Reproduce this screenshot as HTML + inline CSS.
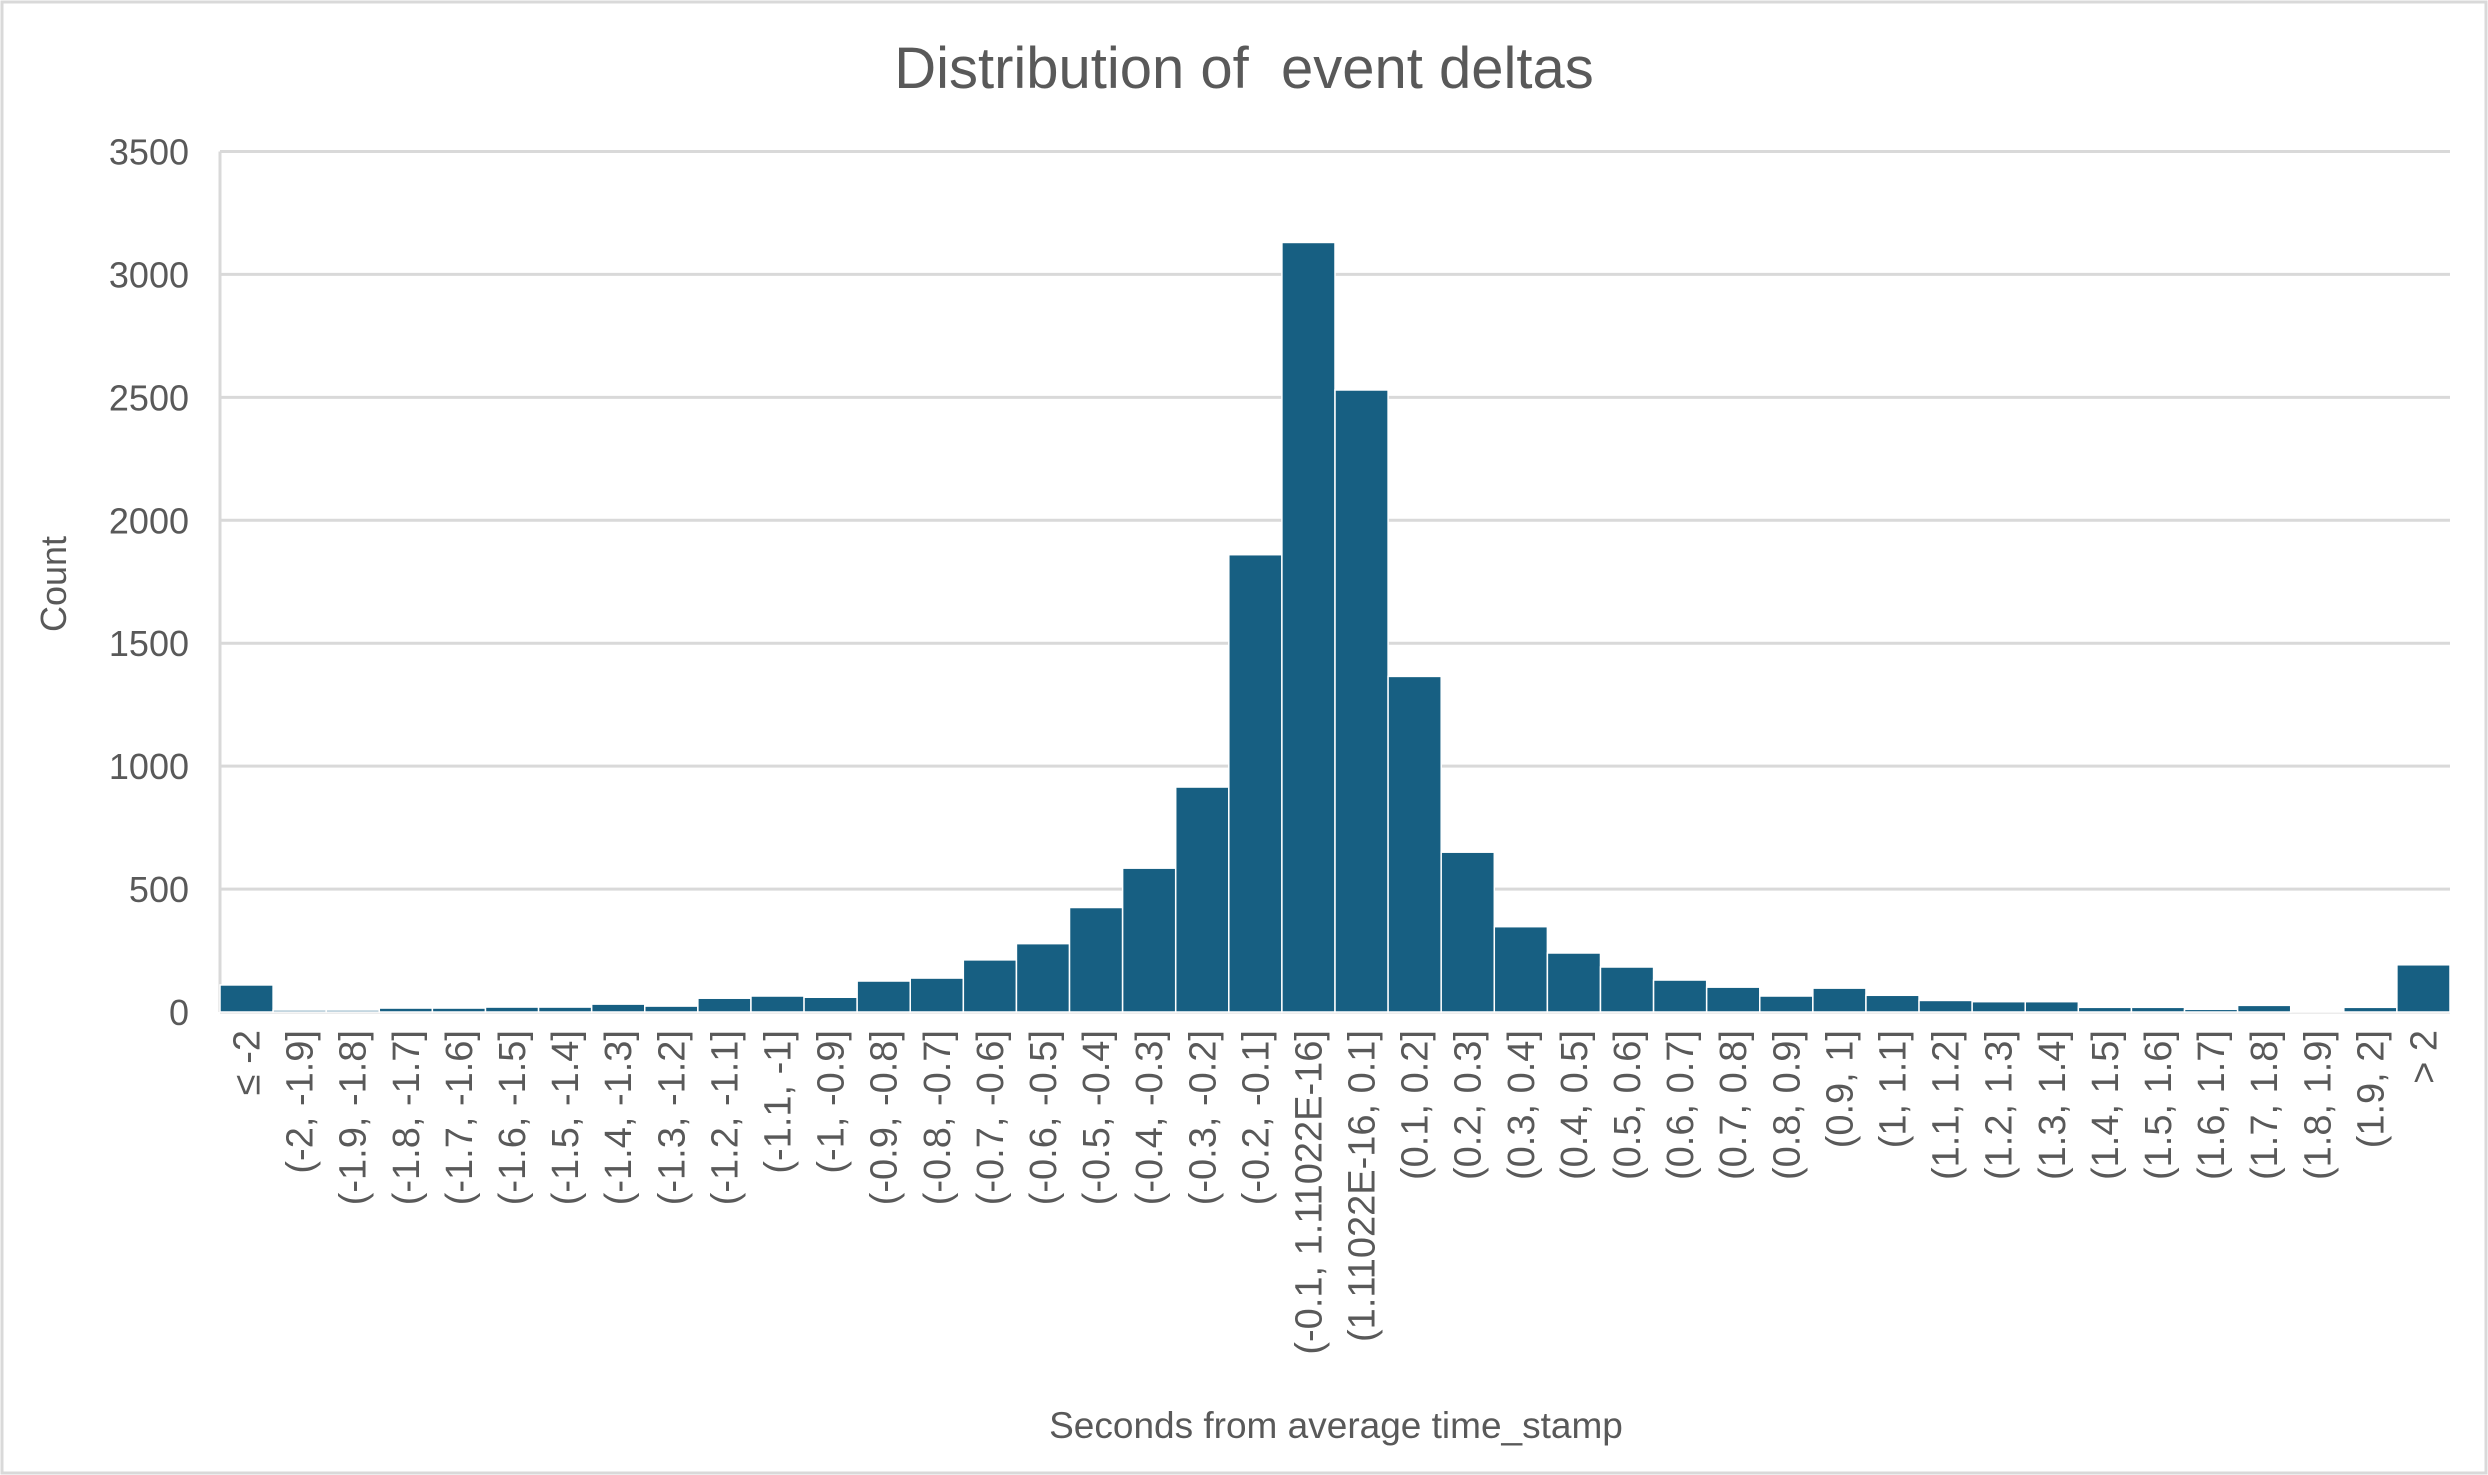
<!DOCTYPE html>
<html><head><meta charset="utf-8"><style>
html,body{margin:0;padding:0;background:#fff;}
svg{display:block;font-family:"Liberation Sans",sans-serif;}
</style></head><body>
<svg id="chart" width="2488" height="1475" viewBox="0 0 2488 1475" xmlns="http://www.w3.org/2000/svg">
<rect x="2" y="2" width="2484" height="1471" fill="#fff" stroke="#d9d9d9" stroke-width="3"/>
<text x="1244" y="88" text-anchor="middle" font-size="58" fill="#595959" xml:space="preserve">Distribution of  event deltas</text>
<g id="grid"></g><g id="bars"></g><g id="yticks"></g><g id="xticks"></g>
<text transform="translate(66,584) rotate(-90)" text-anchor="middle" font-size="36" fill="#595959">Count</text>
<text x="1336" y="1438" text-anchor="middle" font-size="37" fill="#595959">Seconds from average time_stamp</text>
</svg>
<script>
const categories = ["≤ -2","(-2, -1.9]","(-1.9, -1.8]","(-1.8, -1.7]","(-1.7, -1.6]","(-1.6, -1.5]","(-1.5, -1.4]","(-1.4, -1.3]","(-1.3, -1.2]","(-1.2, -1.1]","(-1.1, -1]","(-1, -0.9]","(-0.9, -0.8]","(-0.8, -0.7]","(-0.7, -0.6]","(-0.6, -0.5]","(-0.5, -0.4]","(-0.4, -0.3]","(-0.3, -0.2]","(-0.2, -0.1]","(-0.1, 1.11022E-16]","(1.11022E-16, 0.1]","(0.1, 0.2]","(0.2, 0.3]","(0.3, 0.4]","(0.4, 0.5]","(0.5, 0.6]","(0.6, 0.7]","(0.7, 0.8]","(0.8, 0.9]","(0.9, 1]","(1, 1.1]","(1.1, 1.2]","(1.2, 1.3]","(1.3, 1.4]","(1.4, 1.5]","(1.5, 1.6]","(1.6, 1.7]","(1.7, 1.8]","(1.8, 1.9]","(1.9, 2]","> 2"];
const counts = [110,8,8,16,16,20,20,32,24,56,65,60,126,138,212,278,425,585,915,1860,3130,2530,1365,650,347,240,183,130,101,65,97,68,47,42,42,19,19,11,27,4,19,192];
const yTicks = [0,500,1000,1500,2000,2500,3000,3500];

const NS="http://www.w3.org/2000/svg";
const L=220, R=2450, T=151.5, B=1012, YMAX=3500;
const bw=(R-L)/categories.length;
const y=v=>B-(v/YMAX)*(B-T);
const x=i=>L+i*bw;
function mk(tag,attrs,parent){const e=document.createElementNS(NS,tag);for(const k in attrs)e.setAttribute(k,attrs[k]);document.getElementById(parent).appendChild(e);return e;}

yTicks.forEach(t=>{
  const g=mk('line',{x1:L,x2:R,y1:y(t),y2:y(t),stroke:'#d9d9d9','stroke-width':3},'grid');
  
  
  const tx=mk('text',{x:189,y:y(t)+13,'text-anchor':'end','font-size':36,fill:'#595959'},'yticks');
  tx.textContent=t;
  
  
});
const ax=mk('line',{x1:L,x2:L,y1:T,y2:B,stroke:'#d9d9d9','stroke-width':3},'grid');



counts.forEach((v,i)=>{
  const r=mk('rect',{x:x(i),y:y(v),width:bw,height:B-y(v),fill:'#175f82',stroke:'#fff','stroke-width':1.5},'bars');
  
  
  const cx=x(i)+bw/2+13;
  const t=mk('text',{transform:`translate(${cx},1030) rotate(-90)`,'text-anchor':'end','font-size':38,fill:'#595959'},'xticks');
  t.textContent=categories[i];
  
  
});
</script>
</body></html>
